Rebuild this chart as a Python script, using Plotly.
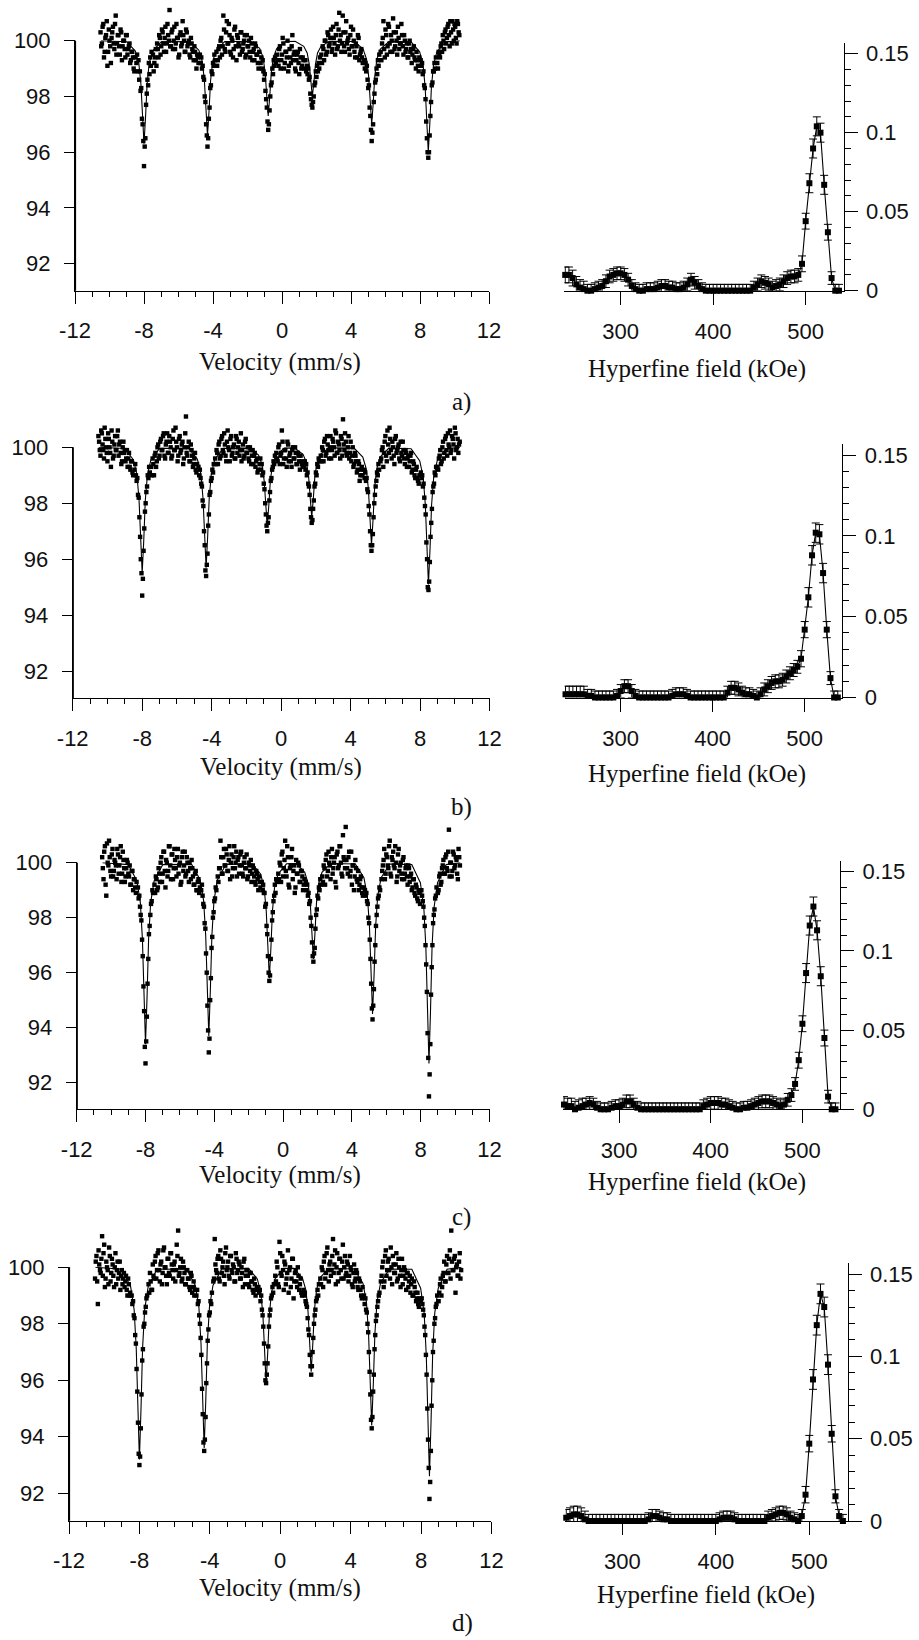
import plotly.graph_objects as go

# ---------------- Mossbauer spectra: velocity channels (mm/s), in segments ----------------
vel_segments = [
    [-10.52, -10.44, -10.36, -10.28, -10.2, -10.12, -10.04, -9.96, -9.88, -9.8, -9.72, -9.64, -9.56,
     -9.48, -9.4, -9.32, -9.24, -9.16, -9.08, -9.0, -8.92, -8.84, -8.76, -8.68, -8.6, -8.52],
    [-8.44, -8.4, -8.36, -8.32, -8.28, -8.24, -8.2, -8.16, -8.12, -8.08, -8.04, -8.0, -7.96, -7.92,
     -7.88, -7.84, -7.8, -7.76, -7.72, -7.68, -7.64, -7.6, -7.56],
    [-7.48, -7.4, -7.32, -7.24, -7.16, -7.08, -7.0, -6.92, -6.84, -6.76, -6.68, -6.6, -6.52, -6.44,
     -6.36, -6.28, -6.2, -6.12, -6.04, -5.96, -5.88, -5.8, -5.72, -5.64, -5.56, -5.48, -5.4, -5.32,
     -5.24, -5.16, -5.08, -5.0, -4.92, -4.84],
    [-4.76, -4.72, -4.68, -4.64, -4.6, -4.56, -4.52, -4.48, -4.44, -4.4, -4.36, -4.32, -4.28, -4.24,
     -4.2, -4.16, -4.12, -4.08, -4.04, -4.0, -3.96, -3.92, -3.88],
    [-3.8, -3.72, -3.64, -3.56, -3.48, -3.4, -3.32, -3.24, -3.16, -3.08, -3.0, -2.92, -2.84, -2.76,
     -2.68, -2.6, -2.52, -2.44, -2.36, -2.28, -2.2, -2.12, -2.04, -1.96, -1.88, -1.8, -1.72, -1.64,
     -1.56, -1.48, -1.4, -1.32],
    [-1.24, -1.2, -1.16, -1.12, -1.08, -1.04, -1.0, -0.96, -0.92, -0.88, -0.84, -0.8, -0.76, -0.72,
     -0.68, -0.64, -0.6, -0.56, -0.52, -0.48, -0.44, -0.4, -0.36],
    [-0.28, -0.2, -0.12, -0.04, 0.04, 0.12, 0.2, 0.28, 0.36, 0.44, 0.52, 0.6, 0.68, 0.76, 0.84, 0.92,
     1.0, 1.08, 1.16, 1.24],
    [1.32, 1.36, 1.4, 1.44, 1.48, 1.52, 1.56, 1.6, 1.64, 1.68, 1.72, 1.76, 1.8, 1.84, 1.88, 1.92, 1.96,
     2.0, 2.04, 2.08, 2.12, 2.16, 2.2],
    [2.28, 2.36, 2.44, 2.52, 2.6, 2.68, 2.76, 2.84, 2.92, 3.0, 3.08, 3.16, 3.24, 3.32, 3.4, 3.48, 3.56,
     3.64, 3.72, 3.8, 3.88, 3.96, 4.04, 4.12, 4.2, 4.28, 4.36, 4.44, 4.52, 4.6, 4.68],
    [4.76, 4.8, 4.84, 4.88, 4.92, 4.96, 5.0, 5.04, 5.08, 5.12, 5.16, 5.2, 5.24, 5.28, 5.32, 5.36, 5.4,
     5.44, 5.48, 5.52, 5.56, 5.6, 5.64],
    [5.72, 5.8, 5.88, 5.96, 6.04, 6.12, 6.2, 6.28, 6.36, 6.44, 6.52, 6.6, 6.68, 6.76, 6.84, 6.92, 7.0,
     7.08, 7.16, 7.24, 7.32, 7.4, 7.48, 7.56, 7.64, 7.72, 7.8, 7.88, 7.96],
    [8.04, 8.08, 8.12, 8.16, 8.2, 8.24, 8.28, 8.32, 8.36, 8.4, 8.44, 8.48, 8.52, 8.56, 8.6, 8.64, 8.68,
     8.72, 8.76, 8.8, 8.84, 8.88, 8.92],
    [9.0, 9.08, 9.16, 9.24, 9.32, 9.4, 9.48, 9.56, 9.64, 9.72, 9.8, 9.88, 9.96, 10.04, 10.12, 10.2, 10.28],
]

# second (interleaved) set of channels in the off-resonance parts of the spectra
vel2_segments = [
    [-10.48, -10.4, -10.32, -10.24, -10.16, -10.08, -10.0, -9.92, -9.84, -9.76, -9.68, -9.6, -9.52,
     -9.44, -9.36, -9.28, -9.2, -9.12, -9.04, -8.96, -8.88, -8.8, -8.72, -8.64, -8.56],
    [-7.44, -7.36, -7.28, -7.2, -7.12, -7.04, -6.96, -6.88, -6.8, -6.72, -6.64, -6.56, -6.48, -6.4,
     -6.32, -6.24, -6.16, -6.08, -6.0, -5.92, -5.84, -5.76, -5.68, -5.6, -5.52, -5.44, -5.36, -5.28,
     -5.2, -5.12, -5.04, -4.96, -4.88],
    [-3.76, -3.68, -3.6, -3.52, -3.44, -3.36, -3.28, -3.2, -3.12, -3.04, -2.96, -2.88, -2.8, -2.72,
     -2.64, -2.56, -2.48, -2.4, -2.32, -2.24, -2.16, -2.08, -2.0, -1.92, -1.84, -1.76, -1.68, -1.6,
     -1.52, -1.44, -1.36],
    [-0.24, -0.16, -0.08, 0.0, 0.08, 0.16, 0.24, 0.32, 0.4, 0.48, 0.56, 0.64, 0.72, 0.8, 0.88, 0.96,
     1.04, 1.12, 1.2],
    [2.32, 2.4, 2.48, 2.56, 2.64, 2.72, 2.8, 2.88, 2.96, 3.04, 3.12, 3.2, 3.28, 3.36, 3.44, 3.52, 3.6,
     3.68, 3.76, 3.84, 3.92, 4.0, 4.08, 4.16, 4.24, 4.32, 4.4, 4.48, 4.56, 4.64],
    [5.76, 5.84, 5.92, 6.0, 6.08, 6.16, 6.24, 6.32, 6.4, 6.48, 6.56, 6.64, 6.72, 6.8, 6.88, 6.96, 7.04,
     7.12, 7.2, 7.28, 7.36, 7.44, 7.52, 7.6, 7.68, 7.76, 7.84, 7.92],
    [9.04, 9.12, 9.2, 9.28, 9.36, 9.44, 9.52, 9.6, 9.68, 9.76, 9.84, 9.92, 10.0, 10.08, 10.16, 10.24],
]

# relative transmission (%)
trans_a_segments = [
    [100.3, 99.9, 100.6, 99.6, 100.2, 99.1, 100.4, 99.8, 100.1, 100.5, 99.7, 100.9, 99.9, 100.2, 99.5,
     100.3, 99.8, 100.0, 99.4, 100.2, 99.7, 99.9, 99.3, 99.6, 99.0, 99.4],
    [99.2, 99.5, 98.9, 99.3, 98.6, 98.9, 98.2, 98.3, 97.2, 97.0, 96.4, 95.5, 96.2, 96.5, 97.7, 98.1,
     98.6, 98.4, 99.2, 98.8, 99.4, 99.1, 99.6],
    [99.5, 99.2, 99.7, 99.9, 99.4, 100.1, 99.8, 100.3, 99.6, 100.5, 99.9, 100.2, 101.1, 99.8, 100.4,
     100.0, 99.7, 100.6, 100.1, 99.5, 100.3, 99.9, 100.2, 99.6, 100.4, 99.8, 100.0, 99.4, 99.9, 99.6,
     99.8, 99.3, 99.5, 99.2],
    [99.5, 99.2, 99.4, 99.0, 99.1, 98.7, 98.6, 98.0, 97.8, 97.0, 96.6, 96.2, 96.5, 97.2, 97.6, 98.3,
     98.4, 98.9, 98.8, 99.2, 99.1, 99.5, 99.3],
    [99.6, 99.3, 99.8, 100.0, 99.5, 100.9, 99.7, 100.3, 99.9, 100.6, 99.6, 100.1, 99.4, 100.4, 99.8,
     100.2, 99.9, 99.5, 100.3, 99.7, 100.0, 99.4, 100.2, 99.8, 99.6, 100.1, 99.3, 99.7, 99.9, 99.5,
     99.2, 99.6],
    [99.2, 99.4, 99.0, 99.3, 98.9, 98.6, 98.8, 98.2, 97.9, 97.6, 97.1, 96.8, 97.0, 97.5, 98.0, 98.4,
     98.5, 99.0, 98.8, 99.3, 99.1, 99.4, 99.2],
    [99.5, 99.1, 99.8, 99.3, 100.1, 99.0, 99.6, 99.4, 98.9, 99.7, 99.2, 100.2, 99.5, 99.0, 99.3, 99.6,
     98.8, 99.4, 99.1, 99.3],
    [99.0, 99.3, 98.9, 99.1, 98.8, 99.0, 98.6, 98.7, 98.1, 97.9, 97.7, 97.6, 97.8, 98.0, 98.4, 98.5,
     98.9, 98.7, 99.1, 98.9, 99.2, 99.0, 99.4],
    [99.5, 99.8, 99.3, 100.0, 99.6, 100.2, 99.9, 100.4, 99.7, 100.1, 99.5, 100.6, 99.8, 101.0, 100.2,
     99.9, 100.3, 99.6, 100.7, 100.0, 99.7, 100.2, 99.8, 100.4, 99.6, 99.9, 99.4, 100.1, 99.5, 99.7, 99.2],
    [99.3, 99.0, 99.2, 98.9, 99.1, 98.6, 98.3, 98.4, 97.6, 97.3, 96.8, 96.4, 96.7, 97.0, 97.8, 98.1,
     98.5, 98.6, 99.0, 98.8, 99.3, 99.1, 99.5],
    [99.6, 99.9, 100.7, 99.4, 100.2, 99.8, 100.5, 99.6, 100.0, 100.8, 99.7, 100.3, 99.5, 100.1, 99.9,
     100.6, 99.8, 100.2, 99.6, 99.9, 99.4, 100.0, 99.7, 99.5, 99.8, 99.3, 99.6, 99.1, 99.4],
    [99.3, 99.1, 99.2, 98.8, 98.9, 98.4, 98.3, 97.9, 97.1, 96.5, 96.0, 95.8, 96.0, 96.6, 97.3, 97.8,
     98.4, 98.5, 98.9, 98.9, 99.2, 99.0, 99.4],
    [99.2, 99.6, 99.4, 99.9, 100.2, 99.7, 100.4, 100.1, 100.6, 99.8, 100.3, 100.7, 100.0, 100.5, 99.9,
     100.6, 100.2],
]
trans_a2_segments = [
    [99.8, 100.5, 99.4, 100.1, 100.7, 99.6, 100.0, 99.2, 100.3, 99.9, 100.6, 99.5, 100.2, 99.8, 100.4,
     99.3, 100.0, 99.7, 100.2, 99.5, 99.8, 99.2, 99.6, 99.4, 98.9],
    [98.9, 99.4, 99.1, 99.7, 100.2, 99.5, 100.4, 99.9, 100.1, 99.6, 100.6, 100.0, 99.8, 100.3, 99.7,
     100.5, 99.9, 100.1, 99.4, 100.2, 99.8, 100.7, 100.0, 99.6, 100.3, 99.9, 99.5, 100.1, 99.7, 99.3,
     99.6, 99.0, 99.4],
    [99.1, 99.7, 99.4, 100.1, 99.8, 100.4, 99.6, 100.7, 99.9, 100.2, 99.5, 100.0, 99.7, 100.5, 99.3,
     100.1, 99.8, 100.3, 99.6, 99.9, 100.2, 99.5, 99.8, 100.0, 99.4, 99.9, 99.6, 99.3, 99.8, 99.5, 99.0],
    [99.3, 99.7, 99.0, 99.5, 99.9, 99.2, 99.6, 100.0, 99.1, 99.4, 99.8, 99.3, 99.6, 98.9, 99.5, 99.2,
     99.7, 99.0, 99.4],
    [99.2, 99.7, 100.0, 99.5, 100.3, 99.8, 100.1, 99.6, 100.5, 99.9, 100.2, 99.7, 100.4, 100.0, 99.6,
     100.9, 99.8, 100.3, 99.9, 100.1, 99.5, 100.5, 99.8, 100.0, 99.4, 99.8, 100.2, 99.3, 99.6, 99.4],
    [99.3, 100.1, 99.7, 100.4, 99.5, 100.6, 99.9, 100.2, 99.6, 100.3, 99.8, 100.0, 100.5, 99.7, 99.9,
     100.2, 99.5, 100.0, 99.7, 99.4, 99.9, 99.6, 99.2, 99.7, 99.4, 99.0, 99.3, 98.9],
    [99.0, 99.5, 99.8, 99.6, 100.0, 100.3, 99.9, 100.5, 100.2, 100.7, 99.9, 100.4, 100.6, 100.1, 100.7,
     100.3],
]

trans_b_segments = [
    [100.4, 99.9, 100.6, 100.1, 99.6, 100.3, 99.8, 100.5, 100.0, 99.3, 100.2, 99.7, 100.4, 99.9, 100.6,
     100.1, 99.8, 99.5, 100.2, 99.9, 99.6, 99.3, 99.8, 99.2, 99.5, 99.0],
    [99.2, 99.4, 99.0, 98.8, 98.9, 98.3, 98.2, 97.5, 96.8, 96.0, 95.5, 94.7, 95.3, 96.3, 97.1, 97.7,
     98.0, 98.4, 98.6, 99.0, 98.9, 99.3, 99.1],
    [99.3, 99.6, 99.0, 99.8, 99.5, 100.1, 99.7, 100.3, 99.9, 100.5, 99.6, 100.2, 99.8, 100.4, 100.0,
     99.7, 100.6, 99.9, 100.2, 99.5, 100.3, 99.8, 100.1, 99.4, 100.0, 101.1, 99.7, 100.2, 99.5, 99.9,
     99.3, 99.6, 99.2, 99.4],
    [99.3, 99.0, 99.2, 98.9, 98.7, 98.6, 98.1, 97.9, 97.0, 96.5, 95.6, 95.4, 95.8, 96.2, 97.2, 97.6,
     98.3, 98.4, 98.8, 98.9, 99.2, 99.1, 99.4],
    [99.6, 99.9, 99.4, 100.2, 99.7, 100.4, 99.8, 100.1, 99.5, 100.6, 99.9, 100.3, 99.7, 100.0, 99.6,
     100.4, 99.8, 100.2, 99.9, 99.5, 100.1, 99.7, 100.3, 99.8, 99.6, 100.0, 99.4, 99.9, 99.7, 99.3,
     99.6, 99.2],
    [99.4, 99.6, 99.2, 99.4, 99.0, 99.1, 98.7, 98.5, 98.0, 97.6, 97.2, 97.0, 97.3, 97.5, 98.1, 98.4,
     98.8, 98.9, 99.2, 99.3, 99.5, 99.4, 99.7],
    [99.8, 99.5, 100.1, 99.7, 100.6, 99.4, 99.9, 99.6, 100.2, 99.5, 99.8, 99.3, 100.0, 99.6, 99.8, 99.4,
     99.7, 99.2, 99.5, 99.3],
    [99.3, 99.5, 99.2, 99.4, 99.0, 99.1, 98.7, 98.6, 98.3, 97.8, 97.5, 97.3, 97.4, 97.8, 98.1, 98.6,
     98.7, 99.1, 99.0, 99.4, 99.3, 99.6, 99.5],
    [99.7, 100.0, 99.5, 100.3, 99.8, 100.1, 99.6, 100.4, 99.9, 100.2, 99.7, 100.5, 99.8, 100.1, 99.6,
     100.3, 101.0, 99.9, 100.2, 99.7, 100.4, 99.8, 99.5, 100.0, 99.4, 99.7, 99.1, 99.5, 98.8, 99.2, 99.0],
    [99.2, 98.9, 99.1, 98.8, 98.9, 98.5, 98.4, 97.9, 97.6, 97.0, 96.5, 96.3, 96.5, 96.9, 97.5, 98.0,
     98.3, 98.6, 98.8, 99.1, 99.0, 99.4, 99.2],
    [99.5, 99.9, 99.3, 100.2, 99.7, 100.6, 99.8, 100.3, 99.6, 100.0, 99.4, 100.4, 99.9, 100.1, 99.5,
     99.8, 100.2, 99.6, 99.9, 99.3, 99.7, 99.5, 99.8, 99.2, 99.4, 98.9, 99.3, 98.8, 99.0],
    [99.1, 98.9, 99.0, 98.6, 98.7, 98.2, 97.9, 97.6, 96.6, 96.0, 95.0, 94.9, 95.2, 95.9, 96.8, 97.3,
     97.8, 98.4, 98.6, 98.7, 99.1, 99.0, 99.3],
    [99.3, 99.6, 99.9, 99.5, 100.2, 99.8, 100.4, 99.7, 100.1, 100.6, 99.9, 100.3, 99.6, 100.5, 100.0,
     99.8, 100.2],
]
trans_b2_segments = [
    [100.2, 99.7, 100.5, 99.9, 100.7, 100.0, 99.5, 100.3, 99.8, 100.6, 99.6, 100.1, 99.9, 100.4, 99.7,
     100.2, 99.4, 100.0, 99.8, 99.5, 99.9, 99.6, 99.3, 99.5, 99.1],
    [99.0, 99.4, 99.7, 99.3, 100.0, 99.6, 100.2, 99.9, 100.4, 99.7, 100.1, 100.5, 99.8, 100.2, 99.6,
     100.3, 99.9, 100.7, 100.0, 99.7, 100.4, 99.9, 100.2, 99.6, 100.5, 99.8, 100.0, 99.5, 100.1, 99.7,
     99.4, 99.8, 99.1],
    [99.4, 99.8, 100.1, 99.6, 100.3, 99.9, 100.5, 99.7, 100.2, 100.0, 99.5, 100.4, 99.8, 100.1, 99.6,
     100.3, 100.0, 99.7, 100.5, 99.9, 99.6, 100.2, 99.8, 100.0, 99.5, 99.9, 99.7, 99.4, 99.8, 99.5, 99.1],
    [99.6, 100.0, 99.4, 99.8, 100.2, 99.6, 99.9, 99.3, 100.1, 99.7, 99.5, 99.9, 99.6, 100.0, 99.4, 99.8,
     99.5, 99.7, 99.4],
    [99.5, 99.9, 100.2, 99.7, 100.4, 99.9, 100.0, 99.6, 100.3, 100.0, 100.6, 99.8, 100.2, 99.9, 100.4,
     99.7, 100.1, 100.5, 99.8, 100.0, 99.6, 100.2, 99.7, 99.3, 99.8, 99.5, 99.2, 99.4, 99.0, 99.3],
    [99.6, 100.0, 99.8, 100.4, 99.5, 100.1, 100.7, 99.9, 100.2, 99.7, 100.3, 99.8, 100.0, 99.6, 100.2,
     99.7, 99.9, 99.4, 99.8, 99.6, 99.3, 99.7, 99.1, 99.5, 99.0, 99.2, 98.9, 98.7],
    [99.2, 99.7, 99.4, 100.0, 99.6, 100.3, 99.9, 100.5, 100.0, 99.8, 100.4, 100.1, 100.7, 99.9, 100.3,
     100.1],
]

trans_c_segments = [
    [100.2, 99.4, 100.6, 98.8, 100.0, 100.8, 99.7, 100.3, 99.5, 100.1, 99.9, 100.5, 99.6, 100.2, 99.3,
     100.4, 99.8, 99.5, 100.1, 99.6, 99.9, 99.2, 99.7, 99.4, 99.1, 99.3],
    [99.1, 98.7, 98.8, 98.4, 98.1, 97.9, 97.2, 96.6, 95.5, 94.6, 93.3, 92.7, 93.5, 94.4, 95.6, 96.5,
     97.4, 97.7, 98.1, 98.5, 98.6, 99.0, 98.9],
    [99.2, 99.5, 99.0, 99.8, 99.3, 100.2, 99.6, 100.4, 99.1, 100.0, 99.7, 100.6, 99.4, 100.3, 99.8,
     100.1, 99.5, 100.5, 99.9, 99.2, 100.2, 99.7, 100.4, 99.6, 100.0, 99.3, 99.8, 100.1, 99.5, 99.2,
     99.7, 99.0, 99.4, 99.1],
    [99.0, 99.2, 98.8, 98.5, 98.4, 97.8, 97.6, 96.7, 96.0, 94.8, 93.9, 93.1, 93.6, 95.0, 95.8, 96.9,
     97.3, 98.0, 98.2, 98.6, 98.7, 99.1, 99.0],
    [99.5, 99.8, 100.8, 99.6, 100.2, 99.9, 100.5, 99.7, 100.1, 99.4, 100.3, 99.8, 100.6, 100.0, 99.5,
     100.2, 99.9, 100.4, 99.6, 100.0, 99.8, 100.3, 99.5, 99.9, 100.1, 99.6, 99.8, 99.3, 99.7, 99.4,
     99.5, 99.1],
    [99.3, 99.0, 99.2, 98.9, 98.9, 98.4, 98.5, 97.7, 97.4, 96.6, 96.0, 95.7, 95.9, 96.5, 97.2, 97.9,
     98.2, 98.6, 98.8, 99.2, 98.9, 99.4, 99.3],
    [99.6, 100.0, 99.3, 100.4, 99.8, 100.8, 99.5, 100.2, 99.1, 99.9, 100.5, 99.7, 98.9, 100.1, 99.6,
     99.9, 99.3, 99.7, 99.0, 99.4],
    [99.3, 99.0, 99.2, 98.8, 98.9, 98.5, 98.6, 98.0, 97.7, 97.1, 96.6, 96.4, 96.7, 96.9, 97.6, 98.1,
     98.3, 98.8, 98.7, 99.1, 99.0, 99.4, 99.2],
    [99.5, 99.9, 99.2, 100.3, 99.7, 100.0, 99.4, 100.5, 99.8, 100.2, 99.1, 100.4, 99.9, 100.6, 99.6,
     101.0, 100.1, 101.3, 99.8, 100.2, 99.5, 100.4, 99.9, 99.0, 100.1, 99.4, 99.7, 99.2, 99.5, 98.9, 99.1],
    [99.0, 98.8, 98.9, 98.6, 98.5, 98.0, 97.8, 97.2, 96.5, 95.6, 94.7, 94.3, 94.8, 95.4, 96.4, 97.0,
     97.7, 98.1, 98.4, 98.7, 98.8, 99.1, 99.0],
    [99.4, 99.9, 100.5, 99.6, 100.2, 99.8, 100.8, 99.5, 100.1, 99.9, 100.6, 99.3, 100.3, 99.7, 100.0,
     99.4, 100.2, 99.6, 99.9, 99.2, 99.8, 99.5, 99.0, 99.4, 98.9, 99.2, 98.7, 99.0, 98.5],
    [99.0, 98.8, 98.6, 98.4, 98.0, 97.7, 97.0, 96.3, 95.3, 93.8, 92.9, 91.5, 92.3, 93.4, 95.2, 96.2,
     97.0, 97.8, 98.1, 98.3, 98.7, 98.8, 99.1],
    [98.9, 99.5, 99.2, 99.8, 100.1, 99.6, 100.3, 99.7, 101.2, 100.0, 99.5, 100.4, 99.8, 100.2, 99.6,
     100.5, 99.9],
]
trans_c2_segments = [
    [99.8, 100.4, 99.2, 100.7, 99.9, 100.2, 99.5, 100.5, 99.7, 100.0, 99.4, 100.3, 99.9, 100.6, 99.6,
     100.1, 99.3, 99.8, 100.0, 99.5, 99.2, 99.7, 99.0, 99.4, 98.9],
    [98.9, 99.4, 99.1, 99.6, 100.0, 99.3, 100.4, 99.7, 100.1, 99.5, 100.6, 99.9, 100.3, 99.4, 100.5,
     99.8, 100.2, 99.6, 100.0, 99.3, 100.4, 99.9, 99.5, 100.2, 99.7, 100.0, 99.4, 99.8, 99.2, 99.6,
     99.0, 99.3, 98.9],
    [99.3, 99.8, 100.2, 99.6, 100.5, 99.9, 100.3, 99.7, 100.6, 100.0, 99.5, 100.2, 99.8, 100.4, 100.1,
     99.6, 100.3, 99.9, 99.5, 100.2, 99.8, 99.4, 100.0, 99.7, 99.3, 99.9, 99.5, 99.2, 99.6, 99.0, 99.3],
    [99.4, 99.9, 100.3, 99.5, 100.1, 99.7, 100.6, 99.2, 99.8, 100.2, 99.4, 99.9, 99.1, 99.6, 100.0,
     99.3, 99.7, 99.5, 99.2],
    [99.3, 99.8, 100.1, 99.5, 100.4, 99.9, 100.2, 99.6, 100.0, 99.3, 100.3, 99.8, 100.6, 100.0, 99.5,
     100.2, 99.8, 100.1, 99.6, 100.4, 99.7, 99.2, 99.9, 99.5, 99.8, 99.3, 99.0, 99.4, 99.1, 98.8],
    [99.7, 100.1, 99.4, 100.3, 99.9, 100.6, 99.6, 100.2, 100.4, 99.8, 100.0, 99.5, 100.5, 99.9, 99.6,
     100.1, 99.4, 99.8, 99.5, 99.9, 99.3, 99.6, 99.1, 99.4, 98.8, 99.1, 98.6, 98.9],
    [99.0, 99.6, 99.3, 99.9, 99.6, 100.2, 99.8, 100.4, 99.5, 100.0, 99.7, 100.3, 99.9, 100.1, 99.4,
     100.2],
]

trans_d_segments = [
    [99.6, 100.4, 98.7, 100.1, 99.8, 101.1, 100.5, 99.3, 100.2, 99.9, 100.7, 99.5, 100.3, 99.7, 100.0,
     99.4, 100.2, 99.8, 99.2, 99.9, 99.6, 99.3, 99.7, 99.0, 99.4, 99.1],
    [99.0, 98.7, 98.8, 98.3, 98.2, 97.6, 97.3, 96.4, 95.6, 94.5, 93.4, 93.0, 93.3, 94.3, 95.5, 96.7,
     97.1, 97.9, 98.0, 98.4, 98.6, 98.9, 99.0],
    [99.4, 99.8, 99.2, 100.1, 99.6, 100.4, 99.9, 100.6, 99.5, 100.2, 99.8, 100.7, 100.0, 99.4, 100.3,
     99.7, 100.5, 99.9, 100.1, 99.5, 100.8, 101.3, 99.8, 100.3, 99.6, 100.0, 99.4, 99.9, 99.6, 99.3,
     99.8, 99.1, 99.5, 99.2],
    [99.0, 99.2, 98.7, 98.8, 98.3, 98.0, 97.5, 96.9, 95.7, 94.8, 93.8, 93.5, 93.9, 94.7, 95.9, 96.6,
     97.4, 97.8, 98.3, 98.4, 98.8, 98.7, 99.1],
    [99.5, 101.0, 99.9, 100.3, 99.6, 100.6, 99.8, 100.2, 99.4, 100.7, 100.0, 99.7, 100.4, 99.9, 100.1,
     99.5, 100.5, 99.8, 100.2, 99.6, 100.0, 99.3, 100.3, 99.7, 99.9, 99.4, 99.8, 99.5, 99.2, 99.6,
     99.0, 99.3],
    [99.3, 99.1, 99.2, 98.8, 99.0, 98.5, 98.3, 97.9, 97.3, 96.6, 96.0, 95.9, 96.2, 96.6, 97.2, 97.9,
     98.3, 98.5, 98.9, 99.0, 99.3, 99.1, 99.4],
    [99.7, 100.2, 99.4, 100.9, 99.8, 100.4, 99.2, 100.1, 99.6, 100.6, 99.9, 99.3, 100.3, 98.9, 99.8,
     99.5, 100.0, 99.2, 99.6, 99.0],
    [99.2, 99.0, 99.1, 98.8, 98.7, 98.6, 98.2, 97.8, 97.6, 96.9, 96.5, 96.2, 96.5, 97.0, 97.5, 98.0,
     98.3, 98.5, 98.8, 98.9, 99.2, 99.0, 99.4],
    [99.6, 100.0, 99.3, 100.4, 99.8, 100.7, 99.5, 100.2, 99.9, 101.0, 100.1, 99.4, 100.5, 99.8, 100.3,
     99.6, 100.8, 100.0, 99.7, 100.2, 99.5, 100.4, 99.9, 99.3, 100.1, 99.6, 99.8, 99.2, 99.5, 99.0, 99.3],
    [99.0, 98.7, 98.9, 98.5, 98.4, 98.0, 97.7, 97.0, 96.3, 95.5, 94.6, 94.3, 94.7, 95.6, 96.2, 97.1,
     97.6, 98.1, 98.3, 98.6, 98.8, 99.0, 99.1],
    [99.5, 100.0, 99.3, 100.4, 99.7, 100.2, 99.9, 100.7, 99.4, 100.1, 99.8, 100.5, 99.6, 100.0, 99.3,
     100.3, 99.7, 99.9, 99.2, 99.8, 99.5, 99.1, 99.6, 99.0, 99.3, 98.8, 99.1, 98.6, 98.8],
    [98.9, 98.7, 98.5, 98.3, 97.9, 97.6, 96.9, 96.2, 95.0, 93.9, 92.9, 91.8, 92.4, 93.5, 95.1, 96.0,
     97.0, 97.4, 98.0, 98.2, 98.6, 98.7, 99.0],
    [98.8, 99.4, 99.0, 99.7, 100.2, 99.5, 100.4, 99.8, 100.6, 101.3, 99.9, 100.3, 99.1, 100.1, 99.7,
     100.5, 99.9],
]
trans_d2_segments = [
    [100.2, 99.5, 100.6, 99.9, 100.3, 99.7, 100.8, 99.6, 100.0, 99.4, 100.4, 99.8, 100.1, 99.3, 100.5,
     99.9, 99.6, 100.2, 99.7, 99.4, 99.8, 99.5, 99.2, 99.6, 99.0],
    [99.1, 99.5, 99.2, 99.7, 100.2, 99.6, 100.5, 99.9, 100.1, 99.4, 100.6, 100.0, 99.7, 100.3, 99.8,
     100.5, 100.1, 99.6, 100.2, 99.9, 100.4, 99.7, 100.0, 99.5, 100.2, 99.8, 99.4, 99.9, 99.6, 99.2,
     99.7, 99.3, 99.0],
    [99.6, 100.1, 99.8, 100.4, 99.5, 100.3, 100.0, 99.7, 100.5, 99.9, 100.2, 99.6, 100.4, 99.8, 100.0,
     99.5, 100.3, 99.9, 100.1, 99.6, 99.8, 100.2, 99.4, 99.9, 99.7, 99.3, 99.8, 99.5, 99.1, 99.4, 99.2],
    [99.5, 100.0, 99.3, 100.5, 99.7, 99.9, 100.2, 99.4, 99.8, 99.1, 100.0, 99.6, 100.3, 99.5, 99.9,
     99.3, 99.7, 99.4, 99.1],
    [99.4, 99.9, 100.2, 99.6, 100.5, 99.9, 100.1, 99.7, 100.4, 99.8, 100.6, 100.0, 99.5, 100.3, 99.9,
     100.2, 99.6, 100.4, 99.8, 100.1, 99.7, 100.0, 99.4, 99.8, 99.5, 99.9, 99.3, 99.6, 99.2, 98.9],
    [99.7, 100.2, 99.5, 100.6, 99.9, 100.3, 99.6, 100.0, 100.4, 99.8, 100.1, 99.5, 100.3, 99.7, 99.9,
     99.4, 100.0, 99.6, 99.8, 99.3, 99.7, 99.4, 99.0, 99.5, 99.1, 98.9, 98.7, 98.9],
    [99.1, 99.6, 99.3, 99.8, 99.5, 100.1, 99.8, 100.3, 99.6, 100.2, 99.9, 100.4, 100.0, 99.7, 100.2,
     99.6],
]

# ---------------- fitted curves ----------------
fit_x = [-10.5,
         -9.0, -8.5, -8.3, -8.18, -8.09, -8.0, -7.91, -7.82, -7.7, -7.5, -7.0,
         -5.32, -4.82, -4.62, -4.5, -4.41, -4.32, -4.23, -4.14, -4.02, -3.82, -3.32,
         -1.8, -1.3, -1.1, -0.98, -0.89, -0.8, -0.71, -0.62, -0.5, -0.3, 0.2,
         0.76, 1.26, 1.46, 1.58, 1.67, 1.76, 1.85, 1.94, 2.06, 2.26, 2.76,
         4.2, 4.7, 4.9, 5.02, 5.11, 5.2, 5.29, 5.38, 5.5, 5.7, 6.2,
         7.48, 7.98, 8.18, 8.3, 8.39, 8.48, 8.57, 8.66, 8.78, 8.98, 9.48,
         10.3]

fit_a = [100.0,
         99.96, 99.63, 99.19, 98.45, 97.26, 96.3, 97.26, 98.45, 99.19, 99.63, 99.96,
         99.97, 99.66, 99.25, 98.57, 97.48, 96.6, 97.48, 98.57, 99.25, 99.66, 99.97,
         99.97, 99.73, 99.41, 98.87, 98.0, 97.3, 98.0, 98.87, 99.41, 99.73, 99.97,
         99.98, 99.8, 99.56, 99.16, 98.52, 98.0, 98.52, 99.16, 99.56, 99.8, 99.98,
         99.97, 99.7, 99.34, 98.74, 97.78, 97.0, 97.78, 98.74, 99.34, 99.7, 99.97,
         99.96, 99.6, 99.12, 98.32, 97.04, 96.0, 97.04, 98.32, 99.12, 99.6, 99.96,
         100.0]

fit_b = [100.0,
         99.96, 99.55, 99.01, 98.11, 96.67, 95.5, 96.67, 98.11, 99.01, 99.55, 99.96,
         99.96, 99.57, 99.05, 98.19, 96.82, 95.7, 96.82, 98.19, 99.05, 99.57, 99.96,
         99.97, 99.72, 99.38, 98.82, 97.93, 97.2, 97.93, 98.82, 99.38, 99.72, 99.97,
         99.98, 99.75, 99.45, 98.95, 98.15, 97.5, 98.15, 98.95, 99.45, 99.75, 99.98,
         99.97, 99.65, 99.23, 98.53, 97.41, 96.5, 97.41, 98.53, 99.23, 99.65, 99.97,
         99.95, 99.51, 98.92, 97.94, 96.37, 95.1, 96.37, 97.94, 98.92, 99.51, 99.95,
         100.0]

fit_c = [100.0,
         99.93, 99.34, 98.55, 97.23, 95.12, 93.4, 95.12, 97.23, 98.55, 99.34, 99.93,
         99.94, 99.37, 98.61, 97.35, 95.34, 93.7, 95.34, 97.35, 98.61, 99.37, 99.94,
         99.96, 99.58, 99.08, 98.24, 96.89, 95.8, 96.89, 98.24, 99.08, 99.58, 99.96,
         99.97, 99.65, 99.23, 98.53, 97.41, 96.5, 97.41, 98.53, 99.23, 99.65, 99.97,
         99.95, 99.45, 98.79, 97.69, 95.93, 94.5, 95.93, 97.69, 98.79, 99.45, 99.95,
         99.93, 99.27, 98.39, 96.93, 94.6, 92.7, 94.6, 96.93, 98.39, 99.27, 99.93,
         100.0]

fit_d = [100.0,
         99.93, 99.32, 98.5, 97.14, 94.97, 93.2, 94.97, 97.14, 98.5, 99.32, 99.93,
         99.94, 99.36, 98.59, 97.31, 95.26, 93.6, 95.26, 97.31, 98.59, 99.36, 99.94,
         99.96, 99.59, 99.1, 98.28, 96.97, 95.9, 96.97, 98.28, 99.1, 99.59, 99.96,
         99.96, 99.63, 99.19, 98.45, 97.26, 96.3, 97.26, 98.45, 99.19, 99.63, 99.96,
         99.94, 99.44, 98.77, 97.65, 95.86, 94.4, 95.86, 97.65, 98.77, 99.44, 99.94,
         99.93, 99.26, 98.37, 96.89, 94.52, 92.6, 94.52, 96.89, 98.37, 99.26, 99.93,
         100.0]

# ---------------- hyperfine field distributions ----------------
hf = [240, 244, 248, 252, 256, 260, 264, 268, 272, 276, 280, 284, 288, 292, 296, 300, 304, 308, 312,
      316, 320, 324, 328, 332, 336, 340, 344, 348, 352, 356, 360, 364, 368, 372, 376, 380, 384, 388,
      392, 396, 400, 404, 408, 412, 416, 420, 424, 428, 432, 436, 440, 444, 448, 452, 456, 460, 464,
      468, 472, 476, 480, 484, 488, 492, 496, 500, 504, 508, 512, 516, 520, 524, 528, 532, 536]

p_a = [0.010, 0.010, 0.008, 0.004, 0.002, 0.001, 0.000, 0.000, 0.001, 0.002,
       0.003, 0.006, 0.009, 0.010, 0.011, 0.011, 0.010, 0.007, 0.003, 0.001,
       0.000, 0.000, 0.001, 0.001, 0.001, 0.002, 0.003, 0.003, 0.002, 0.002,
       0.001, 0.001, 0.002, 0.004, 0.007, 0.005, 0.003, 0.001, 0.000, 0.000,
       0.000, 0.000, 0.000, 0.000, 0.000, 0.000, 0.000, 0.000, 0.000, 0.000,
       0.000, 0.002, 0.004, 0.006, 0.005, 0.004, 0.002, 0.003, 0.004, 0.006,
       0.008, 0.009, 0.009, 0.010, 0.017, 0.044, 0.068, 0.090, 0.104, 0.100,
       0.067, 0.037, 0.008, 0.000, 0.000]

p_b = [0.002, 0.002, 0.002, 0.002, 0.002, 0.002, 0.001, 0.001, 0.000, 0.000,
       0.000, 0.000, 0.000, 0.000, 0.001, 0.004, 0.007, 0.007, 0.004, 0.001,
       0.000, 0.000, 0.000, 0.000, 0.000, 0.000, 0.000, 0.000, 0.000, 0.001,
       0.002, 0.002, 0.002, 0.001, 0.000, 0.000, 0.000, 0.000, 0.000, 0.000,
       0.000, 0.000, 0.000, 0.000, 0.003, 0.006, 0.006, 0.005, 0.003, 0.002,
       0.002, 0.001, 0.000, 0.002, 0.005, 0.007, 0.009, 0.010, 0.010, 0.011,
       0.013, 0.015, 0.017, 0.019, 0.024, 0.042, 0.062, 0.088, 0.102, 0.101,
       0.077, 0.042, 0.012, 0.000, 0.000]

p_c = [0.003, 0.002, 0.002, 0.000, 0.001, 0.002, 0.003, 0.004, 0.003, 0.001,
       0.000, 0.000, 0.000, 0.001, 0.002, 0.002, 0.003, 0.005, 0.005, 0.003,
       0.001, 0.000, 0.000, 0.000, 0.000, 0.000, 0.000, 0.000, 0.000, 0.000,
       0.000, 0.000, 0.000, 0.000, 0.000, 0.000, 0.000, 0.000, 0.002, 0.003,
       0.004, 0.004, 0.004, 0.003, 0.003, 0.002, 0.001, 0.000, 0.000, 0.001,
       0.001, 0.002, 0.003, 0.004, 0.005, 0.005, 0.005, 0.004, 0.003, 0.002,
       0.003, 0.006, 0.009, 0.016, 0.031, 0.054, 0.086, 0.116, 0.128, 0.113,
       0.084, 0.045, 0.008, 0.000, 0.000]

p_d = [0.002, 0.003, 0.004, 0.004, 0.003, 0.001, 0.000, 0.000, 0.000, 0.000,
       0.000, 0.000, 0.000, 0.000, 0.000, 0.000, 0.000, 0.000, 0.000, 0.000,
       0.000, 0.000, 0.001, 0.003, 0.003, 0.002, 0.001, 0.001, 0.000, 0.000,
       0.000, 0.000, 0.000, 0.000, 0.000, 0.000, 0.000, 0.000, 0.000, 0.000,
       0.000, 0.001, 0.002, 0.002, 0.002, 0.001, 0.000, 0.000, 0.000, 0.000,
       0.000, 0.000, 0.000, 0.000, 0.002, 0.003, 0.004, 0.005, 0.005, 0.004,
       0.002, 0.001, 0.000, 0.003, 0.016, 0.047, 0.086, 0.119, 0.138, 0.130,
       0.095, 0.053, 0.015, 0.003, 0.000]

p_err = [0.005, 0.005, 0.005, 0.005, 0.005, 0.005, 0.004, 0.004, 0.004, 0.004,
         0.004, 0.004, 0.004, 0.004, 0.004, 0.004, 0.004, 0.004, 0.004, 0.004,
         0.004, 0.004, 0.004, 0.004, 0.004, 0.004, 0.004, 0.004, 0.004, 0.004,
         0.004, 0.004, 0.004, 0.004, 0.004, 0.004, 0.004, 0.004, 0.004, 0.004,
         0.004, 0.004, 0.004, 0.004, 0.004, 0.004, 0.004, 0.004, 0.004, 0.004,
         0.004, 0.004, 0.004, 0.004, 0.004, 0.004, 0.004, 0.004, 0.004, 0.004,
         0.004, 0.004, 0.004, 0.004, 0.005, 0.005, 0.006, 0.006, 0.006, 0.006,
         0.006, 0.005, 0.004, 0.004, 0.004]

panel_labels = ["a)", "b)", "c)", "d)"]
vel_tickvals = [-12, -8, -4, 0, 4, 8, 12]
vel_ticktext = ["-12", "-8", "-4", "0", "4", "8", "12"]
trans_tickvals = [92, 94, 96, 98, 100]
hf_tickvals = [300, 400, 500]
p_tickvals = [0, 0.05, 0.1, 0.15]
p_ticktext = ["0", "0.05", "0.1", "0.15"]
vel_title = "Velocity (mm/s)"
hf_title = "Hyperfine field (kOe)"


def flatten(name, segs, ref_segs):
    if len(segs) != len(ref_segs):
        raise ValueError(f"{name}: {len(segs)} segments")
    for i, (s, v) in enumerate(zip(segs, ref_segs)):
        if len(s) != len(v):
            raise ValueError(f"{name}: segment {i} has {len(s)} values, expected {len(v)}")
    return [y for s in segs for y in s]


vel = flatten("vel", vel_segments, vel_segments)
vel2 = flatten("vel2", vel2_segments, vel2_segments)
spectra = [flatten("a", trans_a_segments, vel_segments), flatten("b", trans_b_segments, vel_segments),
           flatten("c", trans_c_segments, vel_segments), flatten("d", trans_d_segments, vel_segments)]
spectra2 = [flatten("a2", trans_a2_segments, vel2_segments), flatten("b2", trans_b2_segments, vel2_segments),
            flatten("c2", trans_c2_segments, vel2_segments), flatten("d2", trans_d2_segments, vel2_segments)]
fits = [fit_a, fit_b, fit_c, fit_d]
dists = [p_a, p_b, p_c, p_d]
for f in fits:
    assert len(f) == len(fit_x), len(f)
for p in dists:
    assert len(p) == len(hf), len(p)
assert len(p_err) == len(hf)

# ---------------- page geometry (pixels, from the top-left of the page) ----------------
W, H = 919, 1640
X_LEFT, X_RIGHT = -12, 12
Y_BOTTOM, Y_LINE_TOP, Y_TOP = 91.03, 100.02, 101.45
rows = [
    dict(L=(75.0, 489.0, 40.7, 290.7), R=(564.3, 843.6, 42.6, 290.7),
         vt=(280, 361.7), ht=(697, 368.7), lab=(461.7, 401.7)),
    dict(L=(72.7, 489.6, 447.3, 698.3), R=(564.6, 842.4, 443.8, 697.5),
         vt=(281, 766.7), ht=(697, 773.7), lab=(461.7, 806.7)),
    dict(L=(76.7, 489.5, 862.7, 1109.3), R=(563.1, 840.0, 860.6, 1109.3),
         vt=(280, 1175.0), ht=(697, 1182.0), lab=(461.7, 1216.7)),
    dict(L=(69.0, 491.4, 1267.3, 1520.7), R=(565.3, 847.6, 1262.6, 1521.0),
         vt=(280, 1588.0), ht=(705.7, 1595.0), lab=(462.3, 1623.3)),
]

TICKFONT = dict(family="Liberation Sans", size=22, color="#111111")
TITLEFONT = dict(family="Liberation Serif", size=25, color="#111111")

fig = go.Figure()
# transparent plot areas so that the overlapping (hidden) data axes do not mask anything
layout = dict(width=W, height=H, margin=dict(l=0, r=0, t=0, b=0),
              paper_bgcolor="white", plot_bgcolor="rgba(0,0,0,0)", showlegend=False)
annotations = []
shapes = []


def axname(kind, k):
    return f"{kind}axis" if k == 1 else f"{kind}axis{k}"


def ref(kind, k):
    return kind if k == 1 else f"{kind}{k}"


common = dict(linecolor="black", linewidth=1, showgrid=False, zeroline=False,
              ticks="outside", tickcolor="black", tickwidth=1, tickfont=TICKFONT,
              automargin=False, fixedrange=True, layer="above traces")

for r, g in enumerate(rows):
    kl, kr = 2 * r + 1, 2 * r + 2
    kh = 9 + r  # hidden, taller y axis carrying the data points (they rise above 100 %)
    x0, x1, p100, pbot = g["L"]
    unit = (pbot - p100) / (100.0 - Y_BOTTOM)
    pline = p100 - (Y_LINE_TOP - 100.0) * unit
    ptop = max(p100 - (Y_TOP - 100.0) * unit, 0.0)
    ytop = 100.0 + (p100 - ptop) / unit
    mk = dict(symbol="square", size=4.4, color="black", line=dict(width=0))
    fig.add_trace(go.Scatter(x=vel, y=spectra[r], mode="markers", marker=mk, cliponaxis=False,
                             xaxis=ref("x", kl), yaxis=ref("y", kh)))
    fig.add_trace(go.Scatter(x=vel2, y=spectra2[r], mode="markers", marker=mk, cliponaxis=False,
                             xaxis=ref("x", kl), yaxis=ref("y", kh)))
    fig.add_trace(go.Scatter(x=fit_x, y=fits[r], mode="lines", line=dict(color="black", width=1.1),
                             xaxis=ref("x", kl), yaxis=ref("y", kl)))
    # left vertical axis line of the spectrum (edge of the velocity range, bottom axis up to 100 %),
    # drawn as a line on the taller hidden axis so it is never lost at the plot edge
    fig.add_trace(go.Scatter(x=[X_LEFT, X_LEFT], y=[Y_BOTTOM, 100.0], mode="lines",
                             line=dict(color="black", width=2.2), hoverinfo="skip",
                             xaxis=ref("x", kl), yaxis=ref("y", kh)))
    layout[axname("x", kl)] = dict(common, showline=True, domain=[x0 / W, x1 / W], anchor=ref("y", kl),
                                   range=[X_LEFT, X_RIGHT], tickmode="array", tickvals=vel_tickvals,
                                   ticktext=vel_ticktext, ticklen=12, ticklabelstandoff=8,
                                   minor=dict(dtick=1, tick0=-12, ticks="outside", ticklen=5,
                                              tickcolor="black", showgrid=False))
    layout[axname("y", kl)] = dict(common, showline=True, mirror=False,
                                   domain=[1 - pbot / H, 1 - pline / H],
                                   anchor=ref("x", kl), range=[Y_BOTTOM, Y_LINE_TOP], tickmode="array",
                                   tickvals=trans_tickvals, ticklen=10, ticklabelstandoff=9)
    layout[axname("y", kh)] = dict(visible=False, domain=[1 - pbot / H, 1 - ptop / H],
                                   anchor=ref("x", kl), range=[Y_BOTTOM, ytop], fixedrange=True,
                                   showgrid=False, zeroline=False)
    shapes.append(dict(type="line", xref="paper", yref="paper", layer="above",
                       x0=x0 / W, x1=x0 / W, y0=1 - pbot / H, y1=1 - p100 / H,
                       line=dict(color="black", width=1.2)))

    rx0, rx1, ryt, ryb = g["R"]
    fig.add_trace(go.Scatter(x=hf, y=dists[r], mode="lines+markers",
                             line=dict(color="black", width=1.1),
                             marker=dict(symbol="square", size=6, color="black"),
                             error_y=dict(type="data", array=p_err, color="black", thickness=1, width=4),
                             cliponaxis=False, xaxis=ref("x", kr), yaxis=ref("y", kr)))
    layout[axname("x", kr)] = dict(common, showline=True, domain=[rx0 / W, rx1 / W], anchor=ref("y", kr),
                                   range=[239, 541], tickmode="array", tickvals=hf_tickvals,
                                   ticklen=13, ticklabelstandoff=8)
    layout[axname("y", kr)] = dict(common, showline=True, domain=[1 - ryb / H, 1 - ryt / H],
                                   anchor=ref("x", kr), side="right", range=[0, 0.157],
                                   tickmode="array", tickvals=p_tickvals, ticktext=p_ticktext,
                                   ticklen=13, ticklabelstandoff=4,
                                   minor=dict(dtick=0.01, tick0=0, ticks="outside", ticklen=6,
                                              tickcolor="black", showgrid=False))

    for text, (px, py) in ((vel_title, g["vt"]), (hf_title, g["ht"]), (panel_labels[r], g["lab"])):
        annotations.append(dict(text=text, x=px / W, y=1 - py / H, xref="paper", yref="paper",
                                xanchor="center", yanchor="middle", showarrow=False, font=TITLEFONT))

layout["annotations"] = annotations
layout["shapes"] = shapes
fig.update_layout(**layout)
fig.write_html("out.html", config={"displayModeBar": False, "staticPlot": True},
               post_script="document.body.style.margin='0px';")
